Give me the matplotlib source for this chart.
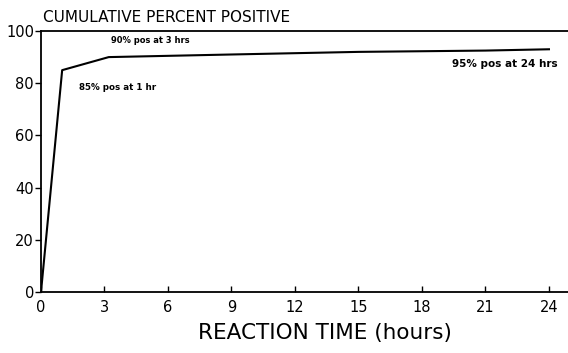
import matplotlib
matplotlib.use("Agg")
import matplotlib.pyplot as plt

hours = [0, 1, 3.2, 9, 15, 21, 24]
percent = [0, 85, 90, 91, 92, 92.5, 93]
x_ticks = [0, 3, 6, 9, 12, 15, 18, 21, 24]
y_ticks = [0, 20, 40, 60, 80, 100]
notes = [("90% pos at 3 hrs", 3.3, 96.5, 6), ("85% pos at 1 hr", 1.8, 78.5, 6.3), ("95% pos at 24 hrs", 19.4, 87.5, 7.5)]

plt.rcParams['font.family'] = ['DejaVu Sans']
fig = plt.figure(figsize=(5.68, 3.53), dpi=100)
ax = fig.add_axes([41/568, 1 - 292/353, 1 - 41/568, (292 - 31)/353])
ax.plot(hours, percent, color='black', lw=1.5)
ax.set_xlim(0, 24.9)
ax.set_ylim(0, 100)
ax.spines['right'].set_visible(False)
for s in ['top', 'left', 'bottom']:
    ax.spines[s].set_linewidth(1.3)
ax.set_xticks(x_ticks)
ax.set_yticks(y_ticks)
ax.tick_params(axis='x', direction='in', length=4, width=1, labelsize=10.5, pad=6)
ax.tick_params(axis='y', direction='out', length=4, width=1, labelsize=10.5, pad=1)
ax.set_xlabel('REACTION TIME (hours)', fontsize=15.5, labelpad=4)
ax.xaxis.set_label_coords(0.539, -0.12)
ax.xaxis.label.set_va('top')
fig.text(43/568, 1 - 22/353, 'CUMULATIVE PERCENT POSITIVE', fontsize=11, ha='left', va='baseline')
for txt, x, y, fs in notes:
    ax.text(x, y, txt, fontsize=fs, fontweight='bold', ha='left', va='center')
fig.savefig('out.png', dpi=100)
